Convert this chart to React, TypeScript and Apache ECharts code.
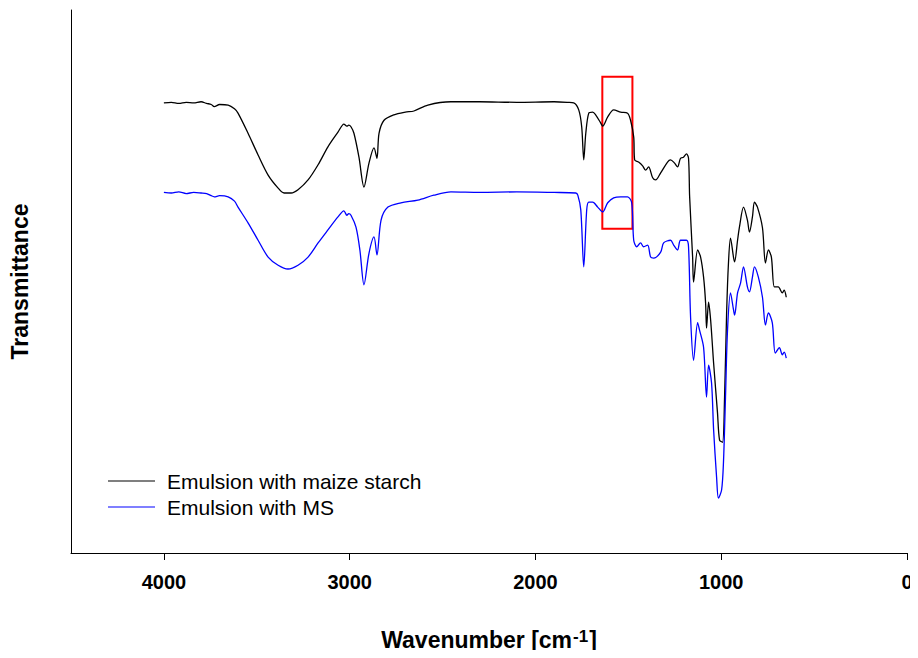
import React, { useEffect, useRef } from "react";
import * as echarts from "echarts";

const FONT = '"Liberation Sans", Arial, Helvetica, sans-serif';

// FTIR spectra: [wavenumber (cm-1), transmittance (a.u.)]
const maizeStarch: [number, number][] = [
  [4000, 82.9], [3960, 83.0], [3920, 82.8], [3880, 83.0], [3840, 82.9], [3800, 83.1],
  [3770, 82.8], [3745, 82.6], [3729, 82.2], [3700, 82.6], [3654, 82.5], [3620, 81.8],
  [3601, 81.0], [3547, 77.3], [3493, 73.3], [3439, 69.6], [3385, 67.2], [3353, 66.3],
  [3315, 66.3], [3278, 66.9], [3224, 68.7], [3170, 71.5], [3117, 74.8], [3063, 77.5],
  [3031, 79.0], [3015, 78.6], [3005, 78.8], [2993, 78.5], [2977, 77.3], [2950, 72.9],
  [2923, 67.4], [2896, 71.8], [2869, 74.6], [2853, 72.7], [2842, 77.3], [2815, 79.7],
  [2762, 80.7], [2700, 81.2], [2654, 81.4], [2579, 82.5], [2455, 83.1], [2300, 83.1],
  [2100, 83.0], [1900, 83.1], [1826, 83.0], [1794, 82.9], [1767, 81.6], [1751, 78.5],
  [1740, 72.4], [1729, 77.3], [1713, 81.0], [1692, 81.2], [1676, 80.7], [1649, 79.2],
  [1638, 78.6], [1611, 80.3], [1579, 81.6], [1541, 81.2], [1504, 81.0], [1488, 79.7],
  [1471, 76.6], [1466, 72.4], [1445, 72.0], [1423, 71.3], [1407, 70.5], [1391, 71.1],
  [1369, 69.1], [1353, 68.7], [1326, 70.0], [1289, 72.0], [1273, 72.4], [1251, 71.8],
  [1235, 71.1], [1219, 72.7], [1203, 72.9], [1187, 73.5], [1176, 72.7], [1170, 65.6],
  [1154, 54.5], [1149, 49.9], [1127, 55.8], [1111, 54.5], [1095, 50.8], [1084, 46.0],
  [1079, 41.4], [1068, 46.2], [1057, 42.9], [1041, 35.0], [1020, 25.8], [1009, 20.8],
  [993, 20.4], [982, 28.7], [971, 44.2], [961, 53.4], [950, 58.0], [934, 54.5],
  [928, 53.6], [912, 57.6], [902, 60.0], [880, 63.7], [859, 61.3], [848, 59.1],
  [832, 61.9], [821, 64.6], [805, 63.7], [778, 59.9], [762, 53.4], [746, 55.8],
  [730, 54.5], [714, 49.0], [693, 49.0], [671, 47.9], [661, 48.4], [650, 47.1],
];

const modifiedStarch: [number, number][] = [
  [4000, 66.4], [3960, 66.3], [3920, 66.5], [3880, 66.2], [3840, 66.4], [3800, 66.3],
  [3770, 66.2], [3745, 65.8], [3729, 65.6], [3700, 65.8], [3654, 65.6], [3620, 64.8],
  [3601, 63.7], [3547, 60.8], [3493, 57.6], [3439, 54.5], [3385, 53.0], [3332, 52.3],
  [3278, 53.0], [3224, 54.5], [3170, 57.1], [3117, 59.5], [3063, 61.9], [3031, 63.0],
  [3015, 62.2], [3005, 62.5], [2993, 62.2], [2966, 60.0], [2945, 55.8], [2923, 49.4],
  [2896, 55.2], [2869, 58.2], [2853, 54.9], [2831, 61.3], [2794, 63.7], [2724, 64.5],
  [2633, 65.0], [2547, 65.9], [2455, 66.5], [2300, 66.4], [2100, 66.5], [1900, 66.4],
  [1783, 66.3], [1772, 65.9], [1756, 63.2], [1740, 52.7], [1724, 63.2], [1713, 64.6],
  [1692, 64.6], [1665, 63.7], [1638, 62.8], [1611, 64.5], [1579, 65.4], [1541, 65.6],
  [1504, 65.6], [1482, 64.5], [1471, 57.6], [1455, 56.4], [1434, 57.1], [1418, 56.4],
  [1396, 56.7], [1380, 54.5], [1364, 54.3], [1326, 55.4], [1310, 57.1], [1273, 57.6],
  [1256, 56.7], [1235, 55.8], [1219, 57.6], [1187, 57.6], [1176, 56.4], [1165, 43.5],
  [1149, 35.5], [1127, 42.4], [1117, 41.1], [1095, 37.9], [1079, 28.7], [1068, 34.6],
  [1052, 31.3], [1041, 22.7], [1025, 14.0], [1015, 10.1], [998, 11.6], [988, 16.6],
  [977, 28.7], [966, 41.1], [950, 47.9], [934, 44.8], [928, 43.8], [912, 47.9],
  [896, 49.7], [880, 52.7], [859, 49.0], [848, 48.1], [832, 50.8], [821, 52.7],
  [800, 50.8], [778, 47.1], [762, 42.0], [746, 44.2], [725, 42.4], [709, 36.8],
  [687, 37.8], [671, 36.5], [661, 37.0], [650, 35.9],
];

const seriesNames = ["Emulsion with maize starch", "Emulsion with MS"];
const xTicks = [0, 1000, 2000, 3000, 4000];

// Highlighted band (wavenumber range and transmittance range)
const highlightX: [number, number] = [1640, 1478];
const highlightY: [number, number] = [87.7, 59.7];

export default function App() {
  const ref = useRef<HTMLDivElement>(null);

  useEffect(() => {
    if (!ref.current) return;
    const chart = echarts.init(ref.current, undefined, { renderer: "svg" });
    chart.setOption({
      animation: false,
      backgroundColor: "#ffffff",
      grid: { left: 70, right: 11, top: 10, bottom: 105, containLabel: false },
      legend: {
        left: 103,
        top: 464,
        orient: "vertical",
        itemWidth: 47,
        itemHeight: 14,
        itemGap: 2,
        icon: "path://M0,6 L47,6 L47,7.2 L0,7.2 Z",
        data: seriesNames,
        textStyle: {
          fontFamily: FONT,
          fontSize: 21,
          color: "#000",
          lineHeight: 24,
          padding: [0, 0, 0, 7],
        },
      },
      xAxis: {
        type: "value",
        inverse: true,
        min: 0,
        max: 4500,
        interval: 1000,
        name: "{t|Wavenumber [cm}{s|-1}{t|]}",
        nameLocation: "middle",
        nameGap: 58.5,
        nameTextStyle: {
          rich: {
            t: {
              fontFamily: FONT,
              fontSize: 23,
              fontWeight: "bold",
              color: "#000",
              lineHeight: 40,
              verticalAlign: "bottom",
            },
            s: {
              fontFamily: FONT,
              fontSize: 17,
              fontWeight: "bold",
              color: "#000",
              lineHeight: 17,
              verticalAlign: "top",
              padding: [16, 1, 0, 1],
            },
          },
        },
        axisLine: { show: true, onZero: false, lineStyle: { color: "#000", width: 1 } },
        axisTick: {
          show: true,
          length: 7,
          inside: false,
          customValues: xTicks,
          lineStyle: { color: "#000", width: 1 },
        },
        axisLabel: {
          customValues: xTicks,
          formatter: (v: number) => String(v),
          margin: 19,
          fontFamily: FONT,
          fontSize: 20,
          fontWeight: "bold",
          color: "#000",
        },
        splitLine: { show: false },
      },
      yAxis: {
        type: "value",
        min: 0,
        max: 100,
        name: "Transmittance",
        nameLocation: "middle",
        nameGap: 40,
        nameTextStyle: {
          fontFamily: FONT,
          fontSize: 23,
          fontWeight: "bold",
          color: "#000",
        },
        axisLine: { show: true, onZero: false, lineStyle: { color: "#000", width: 1 } },
        axisTick: { show: false },
        axisLabel: { show: false },
        splitLine: { show: false },
      },
      series: [
        {
          name: seriesNames[0],
          type: "line",
          data: maizeStarch,
          symbol: "none",
          smooth: 0.3,
          lineStyle: { color: "#000000", width: 1.3 },
          itemStyle: { color: "#000000" },
          markArea: {
            silent: true,
            itemStyle: { color: "rgba(0,0,0,0)", borderColor: "#ff0000", borderWidth: 2 },
            data: [
              [
                { xAxis: highlightX[0], yAxis: highlightY[0] },
                { xAxis: highlightX[1], yAxis: highlightY[1] },
              ],
            ],
          },
        },
        {
          name: seriesNames[1],
          type: "line",
          data: modifiedStarch,
          symbol: "none",
          smooth: 0.3,
          lineStyle: { color: "#0000ff", width: 1.3 },
          itemStyle: { color: "#0000ff" },
        },
      ],
    });
    return () => chart.dispose();
  }, []);

  return <div ref={ref} style={{ width: 918, height: 658, margin: -8 }} />;
}
